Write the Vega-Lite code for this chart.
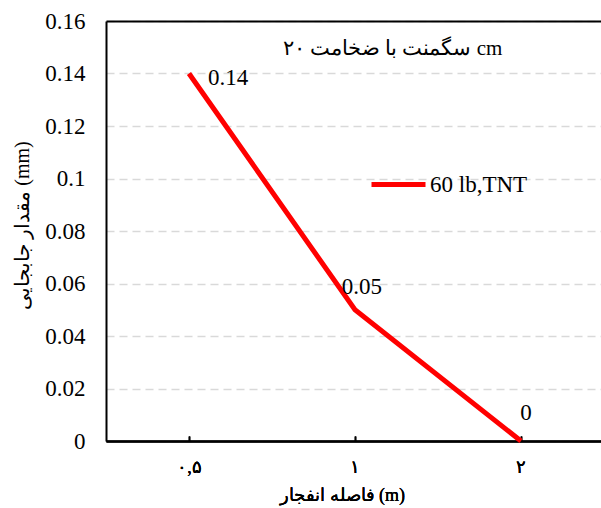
{
  "$schema": "https://vega.github.io/schema/vega-lite/v6.json",
  "width": 495,
  "height": 420,
  "autosize": {"type": "none"},
  "padding": {"left": 106, "top": 21, "right": 0, "bottom": 67},
  "background": "white",
  "config": {"view": {"stroke": null}, "font": "Liberation Serif"},
  "title": {
    "text": "سگمنت با ضخامت ۲۰ cm",
    "orient": "top",
    "anchor": "middle",
    "frame": "group",
    "offset": -70,
    "dx": 39,
    "baseline": "bottom",
    "fontSize": 21,
    "fontWeight": "normal",
    "font": "Liberation Serif",
    "color": "black"
  },
  "data": {
    "values": [
      {"distance": "۰,۵", "displacement": 0.14, "series": "60 lb,TNT"},
      {"distance": "۱", "displacement": 0.05, "series": "60 lb,TNT"},
      {"distance": "۲", "displacement": 0, "series": "60 lb,TNT"}
    ]
  },
  "encoding": {
    "x": {
      "field": "distance",
      "type": "ordinal",
      "sort": null,
      "scale": {"type": "point", "padding": 0.491, "align": 0.509},
      "axis": {
        "orient": "bottom",
        "title": "فاصله انفجار (m)",
        "titleFont": "Liberation Serif",
        "titleFontSize": 18,
        "titleFontWeight": "normal",
        "titleColor": "black",
        "titleX": 236,
        "titleY": 54,
        "titleBaseline": "middle",
        "labelAngle": 0,
        "labelFont": "Liberation Serif",
        "labelFontSize": 18,
        "labelColor": "black",
        "labelPadding": 22,
        "labelBaseline": "top",
        "domainColor": "black",
        "domainWidth": 2,
        "ticks": true,
        "tickColor": "black",
        "tickWidth": 1.5,
        "tickSize": -5,
        "grid": false
      }
    },
    "y": {
      "field": "displacement",
      "type": "quantitative",
      "scale": {"domain": [0, 0.16], "nice": false, "zero": true},
      "axis": {
        "title": "مقدار جابجایی (mm)",
        "titleFont": "Liberation Serif",
        "titleFontSize": 20,
        "titleFontWeight": "normal",
        "titleColor": "black",
        "titleX": -84,
        "titleY": 204,
        "titleAlign": "center",
        "titleBaseline": "middle",
        "values": [0, 0.02, 0.04, 0.06, 0.08, 0.1, 0.12, 0.14, 0.16],
        "format": "~g",
        "labelFont": "Liberation Serif",
        "labelFontSize": 23,
        "labelFontWeight": "normal",
        "labelColor": "black",
        "labelPadding": 21,
        "ticks": false,
        "domainColor": "black",
        "domainWidth": 2,
        "grid": true,
        "gridColor": "#d9d9d9",
        "gridDash": [8, 5],
        "gridWidth": 1.5
      }
    }
  },
  "resolve": {"axis": {"x": "independent"}},
  "layer": [
    {
      "mark": {"type": "line", "strokeWidth": 5, "strokeCap": "butt"},
      "encoding": {
        "stroke": {
          "field": "series",
          "type": "nominal",
          "scale": {"range": ["#ff0000"]},
          "legend": {
            "orient": "none",
            "legendX": 263,
            "legendY": 134,
            "title": null,
            "padding": 0,
            "symbolType": "stroke",
            "symbolSize": 2916,
            "symbolStrokeWidth": 5,
            "labelFont": "Liberation Serif",
            "labelFontSize": 23,
            "labelColor": "black",
            "labelOffset": 2
          }
        }
      }
    },
    {
      "transform": [{"filter": "datum.displacement == 0.14"}],
      "mark": {"type": "text", "align": "left", "baseline": "middle", "dx": 19, "dy": 4.5, "fontSize": 23, "font": "Liberation Serif", "color": "black"},
      "encoding": {
        "x": {
          "field": "distance",
          "type": "ordinal",
          "sort": null,
          "scale": {"type": "point", "padding": 0.491, "align": 0.509},
          "axis": {"orient": "top", "labels": false, "ticks": false, "domain": true, "domainColor": "black", "domainWidth": 2, "grid": false, "title": null}
        },
        "text": {"field": "displacement", "type": "quantitative", "format": "~g"}
      }
    },
    {
      "transform": [{"filter": "datum.displacement == 0.05"}],
      "mark": {"type": "text", "align": "center", "baseline": "middle", "dx": 7, "dy": -23, "fontSize": 23, "font": "Liberation Serif", "color": "black"},
      "encoding": {
        "text": {"field": "displacement", "type": "quantitative", "format": "~g"}
      }
    },
    {
      "transform": [{"filter": "datum.displacement == 0"}],
      "mark": {"type": "text", "align": "center", "baseline": "middle", "dx": 5, "dy": -28, "fontSize": 23, "font": "Liberation Serif", "color": "black"},
      "encoding": {
        "text": {"field": "displacement", "type": "quantitative", "format": "~g"}
      }
    }
  ]
}
